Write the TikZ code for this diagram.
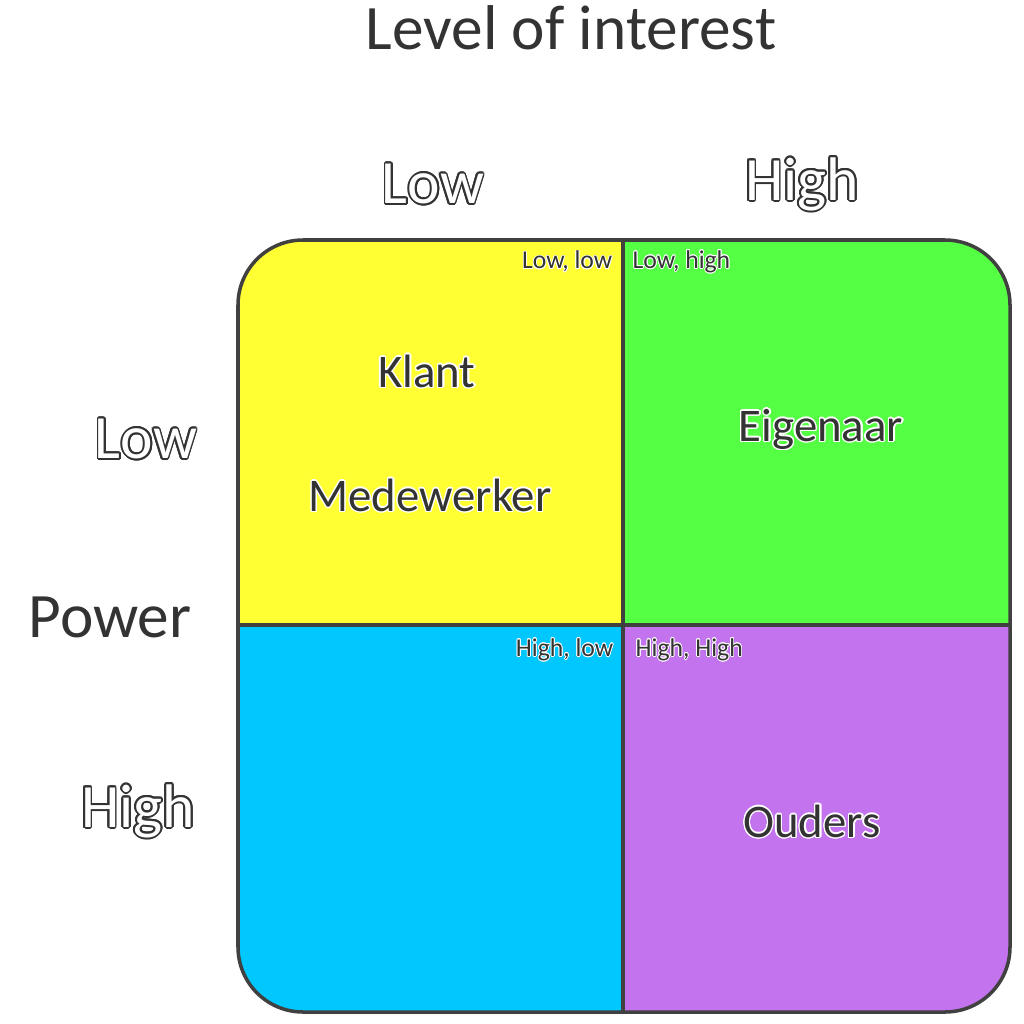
\documentclass[tikz,border=0pt]{standalone}
\usepackage{fontspec}
\setmainfont{Carlito}
\usepackage{xcolor}
\usepackage{contour}
\usepackage{tikz}
\usetikzlibrary{positioning}

\definecolor{inkgray}{HTML}{333333}
\definecolor{edgegray}{HTML}{404040}
\definecolor{quadyellow}{HTML}{FFFF33}
\definecolor{quadgreen}{HTML}{55FF44}
\definecolor{quadblue}{HTML}{00C8FF}
\definecolor{quadpurple}{HTML}{C473EE}

\newcommand{\hollow}[1]{\contour{inkgray}{\textcolor{white}{#1}}}
\newcommand{\glow}[1]{\contour{white}{#1}}

\begin{document}
\begin{tikzpicture}[x=0.01cm, y=-0.01cm, text=inkgray,
    axistitle/.style={font=\fontsize{18}{21}\selectfont},
    axislevel/.style={font=\fontsize{17.5}{20}\selectfont},
    stakeholder/.style={font=\fontsize{13.3}{16}\selectfont},
    corner/.style={font=\fontsize{7.3}{9}\selectfont, inner sep=0pt}]
  \useasboundingbox (0,0) rectangle (1024,1024);

  % Grid corners.
  \coordinate (nw) at (238,240);
  \coordinate (se) at (1010,1012);
  \coordinate (mt) at (623,240);
  \coordinate (mb) at (623,1012);
  \coordinate (ml) at (238,625);
  \coordinate (mr) at (1010,625);
  \coordinate (mid) at (623,625);

  % Quadrant fills.
  \begin{scope}
    \clip[rounded corners=0.65cm] (nw) rectangle (se);
    \fill[quadyellow] (nw) rectangle (mid);
    \fill[quadgreen] (mt) rectangle (mr);
    \fill[quadblue] (ml) rectangle (mb);
    \fill[quadpurple] (mid) rectangle (se);
  \end{scope}
  \draw[edgegray, line width=1pt, rounded corners=0.65cm] (nw) rectangle (se);
  \draw[edgegray, line width=1pt] (mt) -- (mb) (ml) -- (mr);

  % Axis labels.
  \node[axistitle] (interest) at (571,28) {Level of interest};
  \node[axislevel] (lowcol) at (433,185) {\hollow{Low}};
  \node[axislevel] (highcol) at (802,185) {\hollow{High}};
  \node[axistitle] (power) at (110,617) {Power};
  \node[axislevel] (lowrow) at (146,440) {\hollow{Low}};
  \node[axislevel] (highrow) at (138,812) {\hollow{High}};

  % Quadrant tags.
  \node[corner, anchor=east] (lowlow) at (613,262) {\glow{Low, low}};
  \node[corner, anchor=west] (lowhigh) at (632,262) {\glow{Low, high}};
  \node[corner, anchor=east] (highlow) at (614,650) {\glow{High, low}};
  \node[corner, anchor=west] (highhigh) at (635,650) {\glow{High, High}};

  % Stakeholders.
  \node[stakeholder] (klant) at (427,372) {\glow{Klant}};
  \node[stakeholder] (medewerker) at (430,496) {\glow{Medewerker}};
  \node[stakeholder] (eigenaar) at (821,430) {\glow{Eigenaar}};
  \node[stakeholder] (ouders) at (812,822) {\glow{Ouders}};
\end{tikzpicture}
\end{document}
